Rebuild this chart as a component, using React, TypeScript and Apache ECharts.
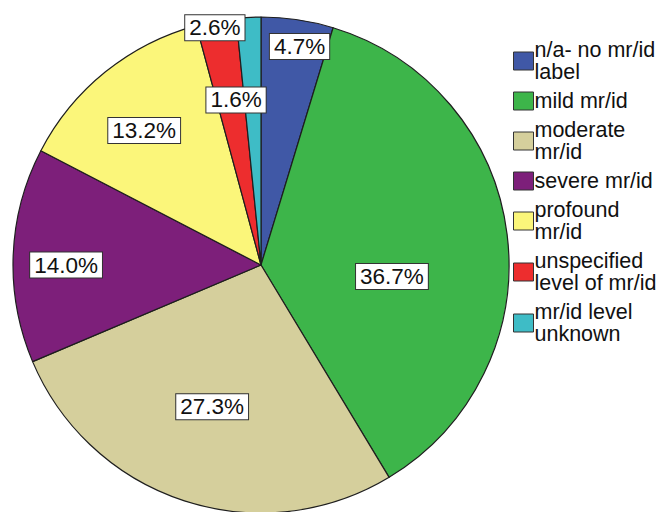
import React, { useEffect, useRef } from "react";
import * as echarts from "echarts";

const categories = [
  "n/a- no mr/id\nlabel",
  "mild mr/id",
  "moderate\nmr/id",
  "severe mr/id",
  "profound\nmr/id",
  "unspecified\nlevel of mr/id",
  "mr/id level\nunknown",
];
const percentages = [4.7, 36.7, 27.3, 14.0, 13.2, 2.6, 1.6];
const colors = ["#4058a6", "#3db54a", "#d5cf9c", "#7d1f7a", "#fbf67a", "#ed2d2e", "#3ebcc6"];

// label placement (angle clockwise from 12 o'clock in degrees, fraction of radius)
const labelAngles = [10, 95, 199, 270, 319, 349, 351.4];
const labelRadii = [0.895, 0.53, 0.605, 0.786, 0.718, 0.975, 0.673];

const CX = 261;
const CY = 265;
const R = 248;

export default function App() {
  const ref = useRef<HTMLDivElement>(null);
  useEffect(() => {
    if (!ref.current) return;
    const chart = echarts.init(ref.current, undefined, { renderer: "svg" });
    chart.setOption({
      animation: false,
      backgroundColor: "#ffffff",
      legend: {
        orient: "vertical",
        left: 508,
        top: 34,
        itemWidth: 20,
        itemHeight: 18,
        itemGap: 7,
        icon: "rect",
        selectedMode: false,
        itemStyle: { borderColor: "#333", borderWidth: 1 },
        textStyle: {
          fontFamily: "'Liberation Sans', Arial, sans-serif",
          fontSize: 21.5,
          lineHeight: 22,
          color: "#111",
          padding: [0, 0, 0, -4],
        },
        data: categories,
      },
      series: [
        {
          type: "pie",
          center: [CX, CY],
          radius: [0, R],
          startAngle: 90,
          clockwise: true,
          avoidLabelOverlap: false,
          itemStyle: { borderColor: "#1e1e1e", borderWidth: 1.2 },
          emphasis: { disabled: true },
          label: {
            show: true,
            position: "inside",
            formatter: (p: any) => Number(p.value).toFixed(1) + "%",
            fontFamily: "'Liberation Sans', Arial, sans-serif",
            fontSize: 22.5,
            color: "#111",
            backgroundColor: "#ffffff",
            borderColor: "#333",
            borderWidth: 1,
            padding: [2, 4, 0, 4],
          },
          labelLine: { show: false },
          labelLayout: (params: any) => {
            const i = params.dataIndex;
            const a = (labelAngles[i] * Math.PI) / 180;
            const r = R * labelRadii[i];
            return { x: CX + r * Math.sin(a), y: CY - r * Math.cos(a) };
          },
          data: categories.map((name, i) => ({
            name,
            value: percentages[i],
            itemStyle: { color: colors[i] },
          })),
        },
      ],
    });
    return () => chart.dispose();
  }, []);
  return (
    <div
      ref={ref}
      style={{ position: "fixed", left: 0, top: 0, width: 662, height: 512, background: "#fff" }}
    />
  );
}
